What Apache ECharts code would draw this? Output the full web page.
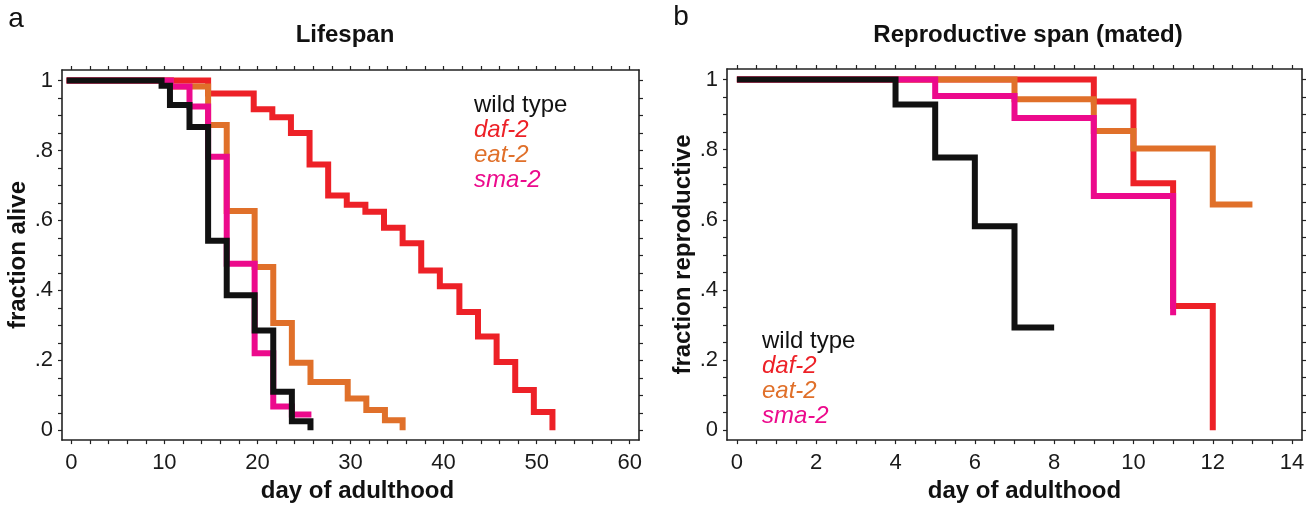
<!DOCTYPE html>
<html><head><meta charset="utf-8">
<script src="https://cdn.jsdelivr.net/npm/echarts@6/dist/echarts.min.js"></script>
<style>html,body{margin:0;padding:0;background:#fff}#c{width:1313px;height:508px}</style>
</head><body><div id="c"></div>
<script>
// ---------- data ----------
const seriesNames = ['wild type', 'daf-2', 'eat-2', 'sma-2'];

// Panel a: Lifespan (day, fraction alive after the step)
const lsWildTypeDay  = [-0.5, 9.7, 10.6, 12.7, 14.7, 16.7, 19.7, 21.7, 23.7, 25.7];
const lsWildTypeFrac = [1, 0.985, 0.93, 0.867, 0.542, 0.386, 0.285, 0.11, 0.026, 0];
const lsDaf2Day  = [-0.5, 14.7, 19.6, 21.6, 23.6, 25.6, 27.6, 29.6, 31.6, 33.6, 35.6, 37.6, 39.6, 41.7, 43.7, 45.7, 47.7, 49.7, 51.7];
const lsDaf2Frac = [1, 0.963, 0.918, 0.895, 0.85, 0.76, 0.671, 0.645, 0.625, 0.579, 0.535, 0.457, 0.412, 0.338, 0.268, 0.195, 0.115, 0.052, 0];
const lsEat2Day  = [-0.5, 10.7, 14.7, 16.7, 19.7, 21.7, 23.7, 25.7, 29.7, 31.7, 33.7, 35.6];
const lsEat2Frac = [1, 0.983, 0.873, 0.627, 0.467, 0.307, 0.193, 0.138, 0.091, 0.058, 0.029, 0];
const lsSma2Day  = [-0.5, 10.7, 12.7, 14.7, 16.7, 19.7, 21.7, 23.7, 25.8];
const lsSma2Frac = [1, 0.983, 0.926, 0.782, 0.476, 0.22, 0.068, 0.045, 0.045];

// Panel b: Reproductive span (mated)
const rsWildTypeDay  = [0, 4, 5, 6, 7, 8];
const rsWildTypeFrac = [1, 0.929, 0.778, 0.582, 0.293, 0.293];
const rsDaf2Day  = [0, 9, 10, 11, 12];
const rsDaf2Frac = [1, 0.937, 0.704, 0.354, 0];
const rsEat2Day  = [0, 7, 9, 10, 12, 13];
const rsEat2Frac = [1, 0.944, 0.853, 0.803, 0.644, 0.644];
const rsSma2Day  = [0, 5, 7, 9, 11];
const rsSma2Frac = [1, 0.953, 0.89, 0.668, 0.328];

// tick labels
const lsDayLabels = [0, 10, 20, 30, 40, 50, 60];
const rsDayLabels = [0, 2, 4, 6, 8, 10, 12, 14];
const fracLabels = [0, 0.2, 0.4, 0.6, 0.8, 1];

// ---------- helpers ----------
const FONT = '"Liberation Sans", Arial, Helvetica, sans-serif';
const COLORS = {'wild type': '#111111', 'daf-2': '#ED2127', 'eat-2': '#E0702A', 'sma-2': '#EC0A8C'};
const AXC = '#222';
const zip = (a, b) => a.map((v, i) => [v, b[i]]);
const lsMinor = Array.from({length: 31}, (_, i) => i * 2);
const rsMinor = Array.from({length: 29}, (_, i) => i * 0.5);
const fracMinor = Array.from({length: 21}, (_, i) => Math.round(i * 5) / 100);
const fracFmt = v => (v === 0 ? '0' : v === 1 ? '1' : '.' + Math.round(v * 10));

function axisCommon(min, max, labels, ticks, showLabel, fmt, margin) {
  return {
    type: 'value', min, max, splitLine: {show: false},
    axisLine: {show: true, onZero: false, lineStyle: {color: AXC, width: 1.6}},
    axisTick: {show: true, inside: false, length: 4, customValues: ticks, lineStyle: {color: AXC, width: 1.2}},
    axisLabel: {show: showLabel, customValues: labels, margin, fontSize: 22, color: '#1a1a1a', fontFamily: FONT, formatter: fmt}
  };
}
function xAxes(gi, min, max, labels, ticks, nameShift) {
  const b = axisCommon(min, max, labels, ticks, true, v => String(v), 12);
  Object.assign(b, {gridIndex: gi, position: 'bottom', name: 'day of adulthood', nameLocation: 'middle', nameGap: 37,
    nameTextStyle: {fontSize: 24, fontWeight: 'bold', color: '#111', fontFamily: FONT, padding: [0, 0, 0, nameShift]}});
  const t = axisCommon(min, max, labels, ticks, false, null, 12);
  Object.assign(t, {gridIndex: gi, position: 'top'});
  return [b, t];
}
function yAxes(gi, name) {
  const l = axisCommon(-0.028, 1.03, fracLabels, fracMinor, true, fracFmt, 9);
  Object.assign(l, {gridIndex: gi, position: 'left', name, nameLocation: 'middle', nameGap: 27,
    nameTextStyle: {fontSize: 24, fontWeight: 'bold', color: '#111', fontFamily: FONT}});
  const r = axisCommon(-0.028, 1.03, fracLabels, fracMinor, false, null, 9);
  Object.assign(r, {gridIndex: gi, position: 'right'});
  return [l, r];
}
function stepSeries(name, gi, days, fracs) {
  return {
    type: 'line', name, xAxisIndex: gi * 2, yAxisIndex: gi * 2, step: 'end',
    data: zip(days, fracs), showSymbol: false, symbol: 'none', silent: true,
    color: COLORS[name],
    lineStyle: {width: 6, color: COLORS[name], join: 'miter', cap: 'butt'}
  };
}
function legendFor(left, top) {
  return {
    left, top, orient: 'vertical', icon: 'none', itemWidth: 0, itemHeight: 20, itemGap: 1, selectedMode: false,
    data: seriesNames.map(n => ({name: n, textStyle: {color: COLORS[n], fontSize: 24, fontFamily: FONT,
      fontStyle: n === 'wild type' ? 'normal' : 'italic'}}))
  };
}
const txt = (x, y, text, font) => ({type: 'text', x, y,
  style: {text, font, fill: '#111', align: 'center', verticalAlign: 'middle'}});

const option = {
  animation: false,
  backgroundColor: '#fff',
  grid: [
    {left: 62, top: 70, width: 577, height: 376},
    {left: 727, top: 69, width: 575, height: 376}
  ],
  xAxis: [...xAxes(0, -1, 61, lsDayLabels, lsMinor, 14), ...xAxes(1, -0.25, 14.25, rsDayLabels, rsMinor, 20)],
  yAxis: [...yAxes(0, 'fraction alive'), ...yAxes(1, 'fraction reproductive')],
  legend: [legendFor(464, 88), legendFor(752, 324)],
  graphic: [
    txt(345, 35, 'Lifespan', 'bold 24px ' + FONT),
    txt(1028, 35, 'Reproductive span (mated)', 'bold 24px ' + FONT),
    txt(16, 19, 'a', '28px ' + FONT),
    txt(681, 17, 'b', '28px ' + FONT)
  ],
  series: [
    stepSeries('daf-2', 0, lsDaf2Day, lsDaf2Frac),
    stepSeries('eat-2', 0, lsEat2Day, lsEat2Frac),
    stepSeries('sma-2', 0, lsSma2Day, lsSma2Frac),
    stepSeries('wild type', 0, lsWildTypeDay, lsWildTypeFrac),
    stepSeries('daf-2', 1, rsDaf2Day, rsDaf2Frac),
    stepSeries('eat-2', 1, rsEat2Day, rsEat2Frac),
    stepSeries('sma-2', 1, rsSma2Day, rsSma2Frac),
    stepSeries('wild type', 1, rsWildTypeDay, rsWildTypeFrac)
  ]
};
const chart = echarts.init(document.getElementById('c'), null, {renderer: 'canvas'});
chart.setOption(option);
</script>
</body></html>
